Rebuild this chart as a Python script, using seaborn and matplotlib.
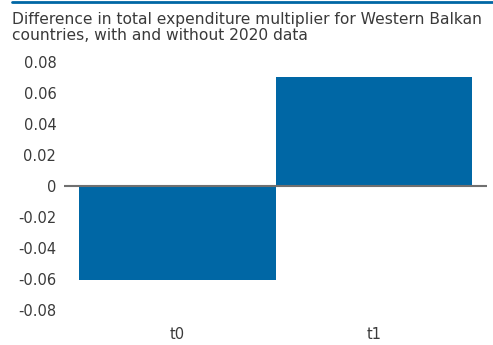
import matplotlib
matplotlib.use("Agg")
import matplotlib.pyplot as plt
from matplotlib.lines import Line2D
import seaborn as sns
import pandas as pd

# Horizons and the change in the multiplier when 2020 is included
horizons = ["t0", "t1"]
differences = [-0.0605, 0.0705]
y_ticks = [0.08, 0.06, 0.04, 0.02, 0.0, -0.02, -0.04, -0.06, -0.08]
y_tick_labels = ["0.08", "0.06", "0.04", "0.02", "0", "-0.02", "-0.04", "-0.06", "-0.08"]

title = ("Difference in total expenditure multiplier for Western Balkan\n"
         "countries, with and without 2020 data")

bar_blue = "#0067a5"
text_grey = "#3a3a3a"

sns.set_theme(style="white")
plt.rcParams["font.family"] = ["DejaVu Sans"]

df = pd.DataFrame({"horizon": horizons, "difference": differences})

fig = plt.figure(figsize=(4.93, 3.45), dpi=100)
ax = fig.add_axes([64 / 493, 1 - 310 / 345, (487 - 64) / 493, (310 - 62) / 345])

sns.barplot(data=df, x="horizon", y="difference", color=bar_blue,
            saturation=1, width=1.0, ax=ax, zorder=2)
for p in ax.patches:
    p.set_edgecolor("none")

ax.axhline(0, color="#707070", linewidth=1.5, zorder=3)
ax.set_xlim(-0.578, 1.575)
ax.set_ylim(-0.08, 0.08)
ax.set_yticks(y_ticks)
ax.set_yticklabels(y_tick_labels)
ax.set_xlabel("")
ax.set_ylabel("")
for s in ax.spines.values():
    s.set_visible(False)
ax.tick_params(axis="both", length=0, labelsize=10.5, colors=text_grey, pad=5.5)
ax.tick_params(axis="x", pad=12)

# Header: accent rule and two-line title
fig.add_artist(Line2D([12 / 493, 1.0], [1 - 1.5 / 345] * 2, color=bar_blue,
                      linewidth=2, transform=fig.transFigure))
fig.text(12 / 493, 1 - 12 / 345, title, ha="left", va="top", fontsize=11.2,
         color=text_grey, linespacing=1.1)

fig.savefig("out.png", dpi=100)
